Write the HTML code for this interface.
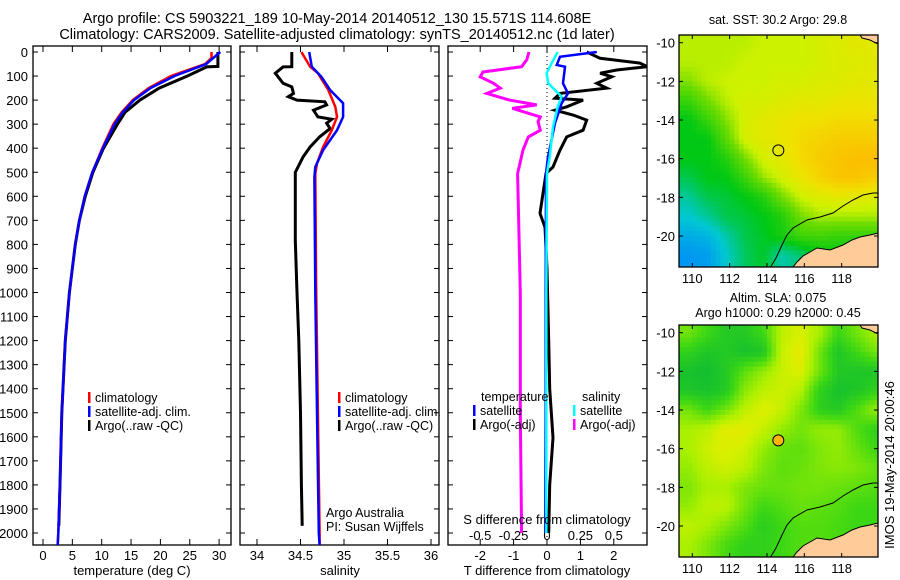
<!DOCTYPE html>
<html><head><meta charset="utf-8"><style>
html,body{margin:0;padding:0;background:#fff;}
svg{display:block;font-family:"Liberation Sans",sans-serif;}
text{fill:#000;}
</style></head><body>
<svg id="s" width="900" height="580" viewBox="0 0 900 580">
<defs>
<clipPath id="c1"><rect x="33" y="46" width="198" height="499"/></clipPath>
<clipPath id="c2"><rect x="240" y="46" width="199" height="499"/></clipPath>
<clipPath id="c3"><rect x="448" y="46" width="199" height="499"/></clipPath>
<clipPath id="m1"><rect x="679" y="35" width="199" height="232"/></clipPath>
<clipPath id="m2"><rect x="679" y="325" width="199" height="232"/></clipPath>
</defs>
<text x="337" y="23" text-anchor="middle" font-size="14.5">Argo profile: CS 5903221_189 10-May-2014 20140512_130 15.571S 114.608E</text>
<text x="337" y="39" text-anchor="middle" font-size="14.5">Climatology: CARS2009. Satellite-adjusted climatology: synTS_20140512.nc (1d later)</text>
<g id="g"></g>
</svg>
<script>
// ---------- Profile data ----------
const tDepthClim = [0,25,50,62,100,150,200,250,300,400,500,600,700,800,1000,1200,1500,1800,2000,2050];
const tClim      = [28.7,28.7,27.6,26.2,21.8,18,15.3,13.4,12,10.1,8.4,7.1,6.2,5.5,4.5,3.8,3.2,2.9,2.6,2.5];
const tSat       = [30.2,29,27.8,26.5,22.4,18.3,15.5,13.6,12.2,10.2,8.4,7.1,6.2,5.5,4.5,3.8,3.2,2.9,2.6,2.5];
const tDepthArgo = [0,60,62,100,150,200,250,300,400,500,600,700,800,1000,1200,1500,1800,1970];
const tArgo      = [29.8,29.8,27.9,24.6,19.8,16.5,14,12.7,10.3,8.5,7.2,6.2,5.5,4.5,3.8,3.2,2.9,2.7];

const sDepthClim = [0,61,88,158,228,270,325,395,463,505,1000,1500,2000,2050];
const sClim      = [34.51,34.61,34.70,34.82,34.90,34.92,34.86,34.76,34.69,34.67,34.68,34.70,34.72,34.72];
const sDepthSat  = [0,61,103,158,213,270,325,408,478,520,1000,1500,2000,2050];
const sSat       = [34.60,34.63,34.74,34.84,34.99,34.99,34.92,34.76,34.67,34.66,34.67,34.69,34.71,34.72];
const sDepthArgo = [0,61,62,88,130,145,172,186,200,207,220,242,270,280,296,318,353,395,436,500,783,1000,1200,1500,1800,1970];
const sArgo      = [34.40,34.40,34.30,34.21,34.30,34.40,34.42,34.36,34.46,34.78,34.80,34.65,34.70,34.86,34.80,34.84,34.72,34.61,34.53,34.44,34.44,34.46,34.48,34.50,34.51,34.52];

const dTDepth = [0,26,46,61,75,88,103,130,150,172,192,200,228,242,262,283,325,353,408,478,505,533,671,729,900,1200,1400,1604,1800,2000];
const dTArgo  = [1.19,1.59,2.78,3.0,2.09,1.59,1.94,1.49,1.79,0.39,0.24,1.08,0.59,0.24,0.78,1.19,1.08,0.59,0.39,0.18,-0.03,-0.06,-0.21,-0.06,0.0,0.05,0.08,0.18,0.08,0.05];
const dTSDepth = [0,20,54,61,130,172,213,296,436,505,1000,1500,2000];
const dTSat    = [1.49,0.39,0.29,0.54,0.48,0.63,0.44,0.24,0.03,-0.03,-0.04,-0.04,-0.05];
const dSDepth  = [0,33,61,83,103,130,150,172,200,220,234,270,290,325,353,408,505,1000,1500,2000];
const dSArgo   = [-0.135,-0.152,-0.19,-0.48,-0.50,-0.40,-0.35,-0.45,-0.28,-0.077,-0.26,-0.05,-0.067,-0.05,-0.14,-0.18,-0.22,-0.20,-0.20,-0.19];
const dSSDepth = [0,46,88,130,186,228,312,436,505,1000,1500,2000];
const dSSat    = [0.08,0.035,-0.003,0.01,0.11,0.08,0.045,0.02,0,-0.005,-0.005,-0.005];

const depthTicks = [0,100,200,300,400,500,600,700,800,900,1000,1100,1200,1300,1400,1500,1600,1700,1800,1900,2000];
const tTicks = [0,5,10,15,20,25,30];
const sTicks = [34,34.5,35,35.5,36];
const dTTicks = [-2,-1,0,1,2];
const dSTicks = [-0.5,-0.25,0,0.25,0.5];

// ---------- Map data (grid centres lon 109.8+i, lat -(10+j)) ----------
const sstRows = [
[3.4,3.4,3.4,3.4,3.5,3.5,3.5,3.6,3.7,3.8,3.8],
[3.4,3.4,3.4,3.5,3.5,3.5,3.5,3.6,3.7,3.7,3.8],
[3.1,3.4,3.5,3.5,3.5,3.6,3.6,3.7,3.7,3.8,3.8],
[2.5,3.0,3.4,3.6,3.6,3.7,3.8,3.8,3.9,3.9,3.9],
[2.0,2.5,3.1,3.6,3.8,3.9,4.0,4.0,4.1,4.1,4.1],
[2.0,2.0,2.8,3.6,3.8,3.9,4.1,4.2,4.3,4.3,4.3],
[2.0,2.0,2.3,3.0,3.6,3.8,4.1,4.3,4.4,4.5,4.5],
[1.7,2.0,2.0,2.5,3.2,3.6,3.9,4.2,4.4,4.4,4.3],
[1.3,1.7,1.8,2.0,2.3,3.0,3.5,3.7,3.8,3.8,3.7],
[1.0,1.3,1.7,1.8,2.0,2.3,3.0,3.3,3.3,3.3,3.3],
[0.6,0.7,1.2,1.7,1.9,2.2,2.6,2.6,2.5,2.5,2.5],
[0.3,0.4,1.0,1.6,1.9,1.2,1.5,2.0,2.0,2.0,2.0]];
const slaRows = [
[1.5,1.0,0.6,0.6,1.0,2.2,2.5,2.0,1.0,1.5,2.0],
[0.8,0.5,0.6,0.4,0.5,2.3,2.8,1.5,0.5,1.0,1.5],
[0.4,0.3,0.6,1.3,1.8,2.3,2.6,1.5,0.6,0.5,0.5],
[0.5,0.4,0.6,1.7,2.2,2.4,2.1,0.8,0.4,0.5,0.8],
[1.5,1.0,1.5,2.2,2.6,2.3,1.6,0.8,0.6,1.2,1.8],
[2.0,2.2,2.7,2.7,2.3,1.8,1.5,1.8,1.8,1.2,0.8],
[2.0,2.4,2.6,2.4,1.8,1.4,1.3,1.6,1.8,1.4,1.0],
[1.8,2.2,2.4,2.2,1.6,1.3,1.4,1.6,1.7,1.6,1.4],
[1.6,2.0,2.0,1.6,1.4,1.4,1.5,1.5,1.4,1.3,1.2],
[1.8,2.2,2.2,1.5,1.0,1.2,1.4,1.3,1.2,1.0,1.0],
[2.2,2.0,1.6,1.2,0.7,1.0,1.2,1.2,1.1,1.0,1.0],
[2.0,1.6,1.1,0.8,0.8,1.0,1.2,1.2,1.1,1.0,1.0]];
const lonTicks = [110,112,114,116,118];
const latTicks = [-10,-12,-14,-16,-18,-20];
const argoLon = 114.608, argoLat = -15.571;

const NS = 'http://www.w3.org/2000/svg';
const G = document.getElementById('g');
function mk(tag, attrs, parent, txt){
  const e = document.createElementNS(NS, tag);
  for (const k in attrs) e.setAttribute(k, attrs[k]);
  if (txt !== undefined) e.textContent = txt;
  (parent || G).appendChild(e);
  return e;
}
const yD = d => 52 + 0.2405 * d;
const xT = t => 43 + 5.87 * t;
const xS = s => 257 + 87 * (s - 34);
const xdT = v => 547 + 33.4 * v;
const xdS = v => 547 + 133.6 * v;

function line(depths, vals, xf, color, w, clip, name){
  const pts = depths.map((d,i) => xf(vals[i]).toFixed(1) + ',' + yD(d).toFixed(1)).join(' ');
  const p = mk('polyline', {points: pts, fill:'none', stroke: color, 'stroke-width': w, 'clip-path':'url(#'+clip+')', 'stroke-linejoin':'miter'});
  
  
}

function frame(x0, x1, name){
  const r = mk('rect', {x:x0, y:46, width:x1-x0, height:499, fill:'none', stroke:'#000', 'stroke-width':1.3});
  
  
  depthTicks.forEach(d => {
    mk('line', {x1:x0, x2:x0+5, y1:yD(d), y2:yD(d), stroke:'#000'});
    mk('line', {x1:x1, x2:x1-5, y1:yD(d), y2:yD(d), stroke:'#000'});
  });
}
function xticks(ticks, xf, y, top){
  ticks.forEach(t => {
    const x = xf(t);
    mk('line', {x1:x, x2:x, y1:545, y2:539, stroke:'#000'});
    if (top) mk('line', {x1:x, x2:x, y1:46, y2:52, stroke:'#000'});
  });
}

// Panel 1
frame(33, 231, 'temperature-panel');
depthTicks.forEach(d => {
  const t = mk('text', {x:28, y:yD(d)+5, 'text-anchor':'end', 'font-size':13}, G, String(d));
  
  
});
xticks(tTicks, xT, 545, true);
tTicks.forEach(t => {
  const e = mk('text', {x:xT(t), y:560, 'text-anchor':'middle', 'font-size':13}, G, String(t));
  
  
});
line(tDepthArgo, tArgo, xT, '#000', 3, 'c1', 'temperature-argo-line');
line(tDepthClim, tClim, xT, '#f00', 2.5, 'c1', 'temperature-climatology-line');
line(tDepthClim, tSat, xT, '#00f', 2.5, 'c1', 'temperature-satellite-line');

// Panel 2
frame(240, 439, 'salinity-panel');
xticks(sTicks, xS, 545, true);
sTicks.forEach(t => {
  const e = mk('text', {x:xS(t), y:560, 'text-anchor':'middle', 'font-size':13}, G, String(t));
  
  
});
line(sDepthArgo, sArgo, xS, '#000', 3, 'c2', 'salinity-argo-line');
line(sDepthClim, sClim, xS, '#f00', 2.5, 'c2', 'salinity-climatology-line');
line(sDepthSat, sSat, xS, '#00f', 2.5, 'c2', 'salinity-satellite-line');

// Panel 3
frame(448, 647, 'difference-panel');
xticks(dTTicks, xdT, 545, true);
dTTicks.forEach(t => {
  const e = mk('text', {x:xdT(t), y:560, 'text-anchor':'middle', 'font-size':13}, G, String(t));
  
  
});
dSTicks.forEach(t => {
  const e = mk('text', {x:xdS(t), y:540, 'text-anchor':'middle', 'font-size':13}, G, String(t));
  
  
});
const zl = mk('line', {x1:547, x2:547, y1:52, y2:540, stroke:'#000', 'stroke-dasharray':'1,3'});


line(dSDepth, dSArgo, xdS, '#f0f', 3, 'c3', 's-diff-argo-line');
line(dTDepth, dTArgo, xdT, '#000', 3, 'c3', 't-diff-argo-line');
line(dTSDepth, dTSat, xdT, '#00f', 2.5, 'c3', 't-diff-satellite-line');
line(dSSDepth, dSSat, xdS, '#0ff', 2.5, 'c3', 's-diff-satellite-line');

// Axis titles
[[132,575,'temperature (deg C)','x-axis-title-temperature'],[340,575,'salinity','x-axis-title-salinity'],
 [547,575,'T difference from climatology','x-axis-title-t-diff'],[547,524,'S difference from climatology','x-axis-title-s-diff']].forEach(a => {
  const e = mk('text', {x:a[0], y:a[1], 'text-anchor':'middle', 'font-size':13}, G, a[2]);
  
  
});

// Legends
function legend(x, y, color, label, name){
  mk('rect', {x:x, y:y-10, width:2.5, height:11, fill:color});
  const e = mk('text', {x:x+7, y:y, 'font-size':12.5}, G, label);
  
  
}
legend(88, 402, '#f00', 'climatology', 'legend-entry-climatology');
legend(88, 416, '#00f', 'satellite-adj. clim.', 'legend-entry-satellite');
legend(88, 430, '#000', 'Argo(..raw -QC)', 'legend-entry-argo');
legend(338, 402, '#f00', 'climatology', 'legend-entry-climatology-2');
legend(338, 416, '#00f', 'satellite-adj. clim.', 'legend-entry-satellite-2');
legend(338, 430, '#000', 'Argo(..raw -QC)', 'legend-entry-argo-2');
let e1 = mk('text', {x:481, y:401, 'font-size':12.5}, G, 'temperature');


let e2 = mk('text', {x:582, y:401, 'font-size':12.5}, G, 'salinity');


legend(473, 415, '#00f', 'satellite', 'legend-entry-t-satellite');
legend(473, 429, '#000', 'Argo(-adj)', 'legend-entry-t-argo');
legend(573, 415, '#0ff', 'satellite', 'legend-entry-s-satellite');
legend(573, 429, '#f0f', 'Argo(-adj)', 'legend-entry-s-argo');
let e3 = mk('text', {x:326, y:517, 'font-size':12.5}, G, 'Argo Australia');


let e4 = mk('text', {x:326, y:531, 'font-size':12.5}, G, 'PI: Susan Wijffels');



// ---------- Maps ----------
function lerpC(stops, v){
  if (v <= stops[0][0]) return stops[0][1];
  for (let i=1;i<stops.length;i++){
    if (v <= stops[i][0]){
      const a = stops[i-1], b = stops[i], f = (v-a[0])/(b[0]-a[0]);
      return a[1].map((c,k) => Math.round(c + (b[1][k]-c)*f));
    }
  }
  return stops[stops.length-1][1];
}
const sstStops = [[0,[0,130,255]],[1,[0,200,210]],[2,[0,200,20]],[3,[110,220,0]],[3.5,[205,242,0]],[4,[240,225,0]],[4.5,[252,190,0]],[5,[255,160,0]]];
const slaStops = [[0,[0,180,60]],[1,[60,215,20]],[2,[170,240,0]],[2.5,[215,240,0]],[3,[240,228,0]]];
function bil(rows, lon, lat){
  let fi = lon - 109.8, fj = (-lat) - 10;
  fi = Math.max(0, Math.min(10, fi)); fj = Math.max(0, Math.min(11, fj));
  const i0 = Math.min(9, Math.floor(fi)), j0 = Math.min(10, Math.floor(fj));
  const u = fi - i0, w = fj - j0;
  return rows[j0][i0]*(1-u)*(1-w) + rows[j0][i0+1]*u*(1-w) + rows[j0+1][i0]*(1-u)*w + rows[j0+1][i0+1]*u*w;
}
function drawMap(rows, stops, top, clip, name, markerFill){
  const lx = lon => 692.3 + (lon - 110) * 18.67;
  const ly = lat => top + (-lat - 10) * 19.33;
  const grp = mk('g', {'clip-path':'url(#'+clip+')'});
  
  
  const step = 0.25;
  for (let lon = 109.25; lon < 120.1; lon += step){
    for (let lat = -9.25; lat > -21.9; lat -= step){
      const c = lerpC(stops, bil(rows, lon + step/2, lat - step/2));
      mk('rect', {x:lx(lon).toFixed(2), y:ly(lat).toFixed(2), width:(step*18.67+0.6).toFixed(2), height:(step*19.33+0.6).toFixed(2), fill:'rgb('+c.join(',')+')'}, grp);
    }
  }
  const oy = top - 42.7;
  // land
  mk('polygon', {points:[[793,267],[797,262],[803,256],[810,252],[817,248],[830,250],[843,245],[852,240],[860,237],[870,235],[878,233],[878,270]].map(p=>p[0]+','+(p[1]+oy)).join(' '), fill:'#ffcc99', stroke:'#000', 'stroke-width':1}, grp);
  mk('polygon', {points:[[860,35],[878,35],[878,44],[870,40],[862,38]].map(p=>p[0]+','+(p[1]+oy)).join(' '), fill:'#ffcc99', stroke:'#000', 'stroke-width':1}, grp);
  mk('polyline', {points:[[770,268],[776,258],[782,245],[787,235],[793,228],[807,220],[820,217],[833,213],[843,206],[853,200],[863,195],[873,193],[878,193]].map(p=>p[0]+','+(p[1]+oy)).join(' '), fill:'none', stroke:'#000', 'stroke-width':1}, grp);
  const fr = mk('rect', {x:679, y:top-7.7, width:199, height:232, fill:'none', stroke:'#000', 'stroke-width':1.3});
  
  
  lonTicks.forEach(l => {
    mk('line', {x1:lx(l), x2:lx(l), y1:top-7.7, y2:top-3.7, stroke:'#000'});
    mk('line', {x1:lx(l), x2:lx(l), y1:top+224.3, y2:top+220.3, stroke:'#000'});
    const t = mk('text', {x:lx(l), y:top+240.3, 'text-anchor':'middle', 'font-size':13}, G, String(l));
    
    
  });
  latTicks.forEach(l => {
    mk('line', {x1:679, x2:683, y1:ly(l), y2:ly(l), stroke:'#000'});
    mk('line', {x1:878, x2:874, y1:ly(l), y2:ly(l), stroke:'#000'});
    const t = mk('text', {x:675, y:ly(l)+5, 'text-anchor':'end', 'font-size':13}, G, String(l));
    
    
  });
  const m = mk('circle', {cx:lx(argoLon), cy:ly(argoLat), r:5.5, fill:markerFill, stroke:'#000', 'stroke-width':1});
  
  
}
drawMap(sstRows, sstStops, 42.7, 'm1', 'sst-map', 'none');
drawMap(slaRows, slaStops, 332.7, 'm2', 'sla-map', '#ffb400');

[[778,24,'sat. SST: 30.2  Argo: 29.8','sst-map-title'],[778,302,'Altim. SLA: 0.075','sla-map-title'],[778,317,'Argo h1000: 0.29 h2000: 0.45','sla-map-subtitle']].forEach(a => {
  const e = mk('text', {x:a[0], y:a[1], 'text-anchor':'middle', 'font-size':12.5}, G, a[2]);
  
  
});
const ts = mk('text', {x:0, y:0, 'text-anchor':'middle', 'font-size':13, transform:'translate(894,465) rotate(-90)'}, G, 'IMOS 19-May-2014 20:00:46');


</script>
</body></html>
